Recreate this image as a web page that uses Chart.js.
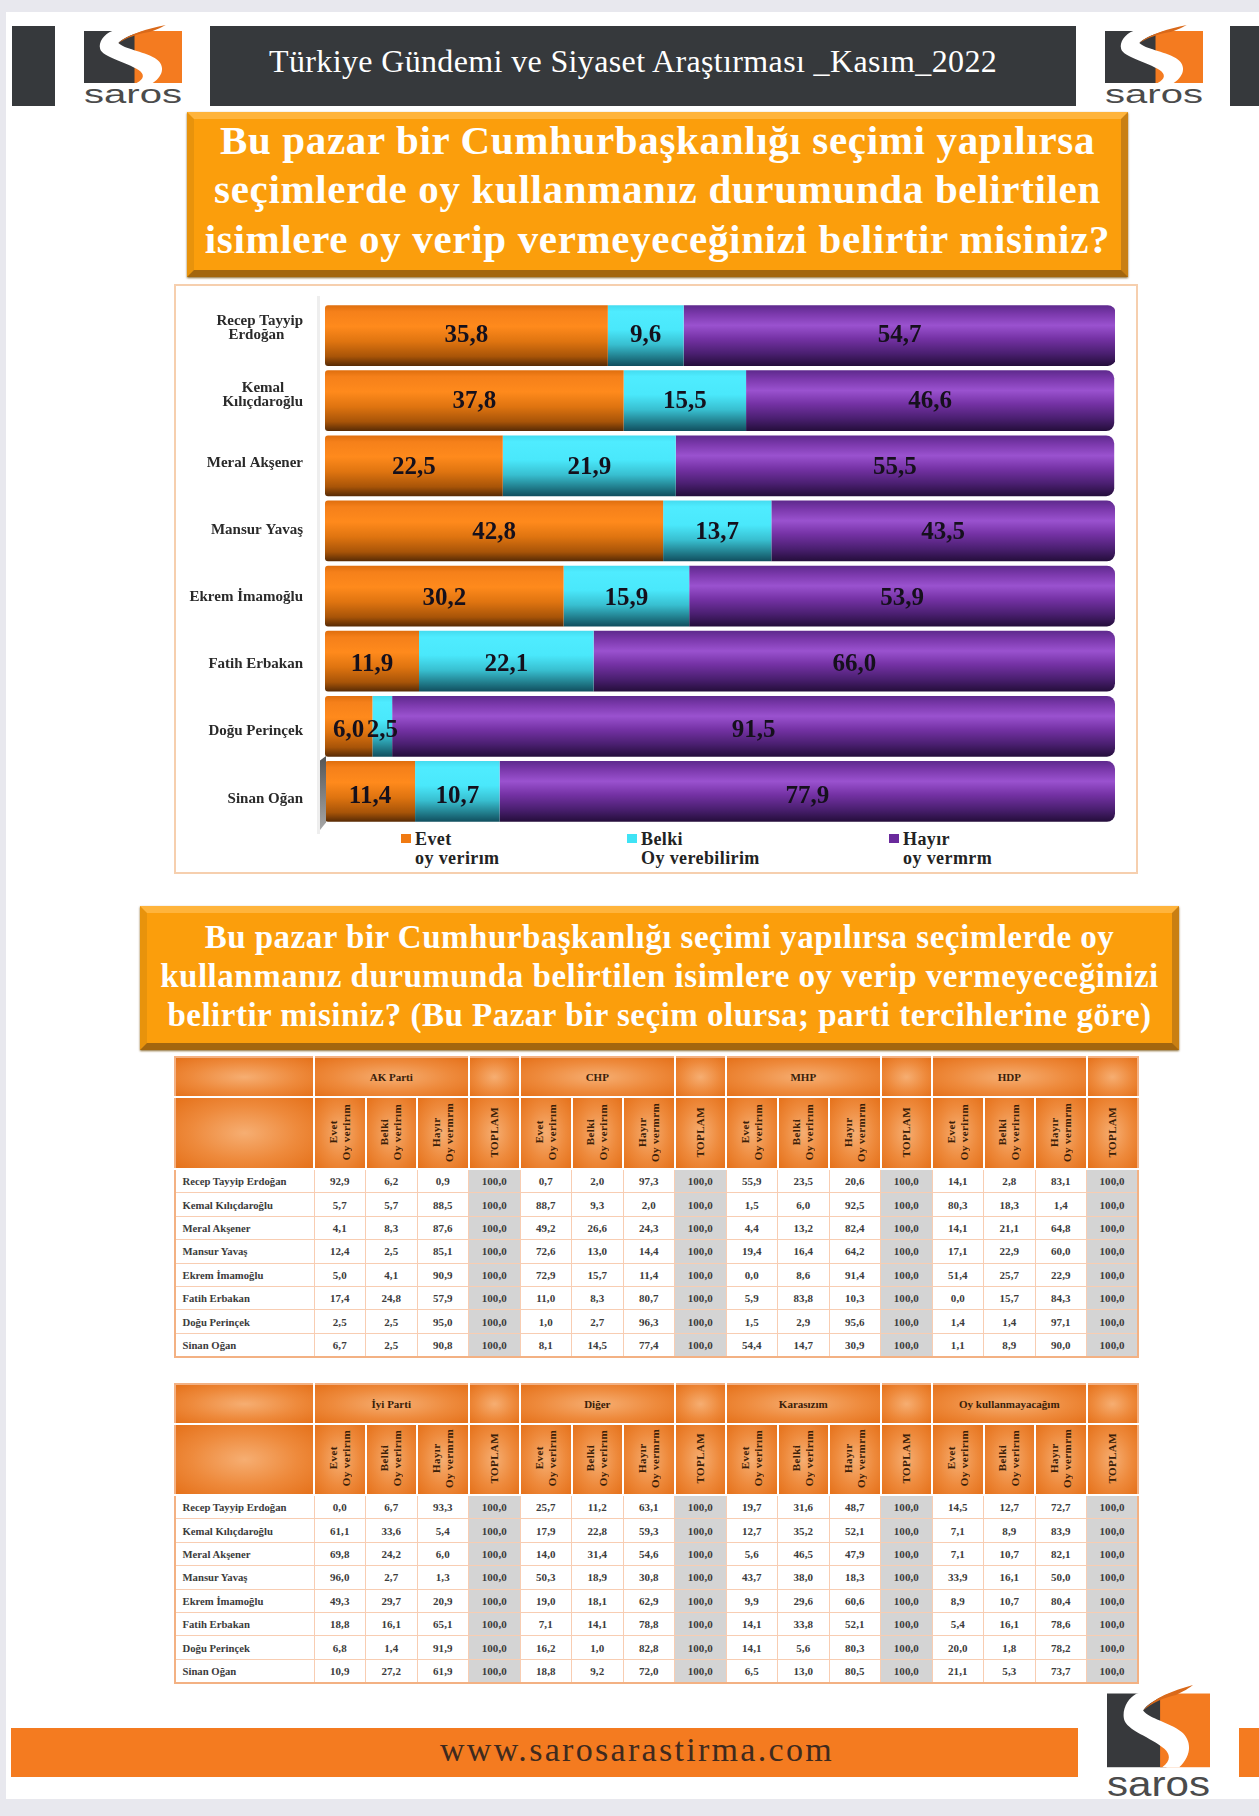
<!DOCTYPE html>
<html lang="tr">
<head>
<meta charset="utf-8">
<title>Saros Kasım 2022</title>
<script src="https://cdn.jsdelivr.net/npm/chart.js@4"></script>
<style>
html,body{margin:0;padding:0;width:1259px;height:1816px;overflow:hidden;background:#e8e8ee;font-family:"Liberation Serif",serif}
div,svg,table,canvas{position:absolute}
#page{left:6px;top:12px;width:1253px;height:1787px;background:#fff}
.dark{background:#36393c;top:26px;height:80px}
.logo{overflow:visible}
.box{box-sizing:border-box;border-style:solid;border-width:7px;border-color:#ffb43c #c97f12 #a3660e #e8930c;background:#fb9e0c;color:#fff;font-weight:bold;text-align:center;box-shadow:0 1px 2px #8a6a30}
.box span{position:absolute;left:-7px;right:-7px;white-space:nowrap}
#panel{box-sizing:border-box;left:174px;top:284px;width:964px;height:590px;border:2px solid #f6cfae}
#chart{left:172px;top:303px}
#axisline{left:317px;top:296px;width:3px;height:538px;background:#eeeeee}
#wedge{left:320px;top:756px;width:6px;height:74px;background:linear-gradient(#555,#a8a8a8);clip-path:polygon(100% 0,100% 90%,0 100%,0 6%)}
.lg{font-weight:bold;font-size:18px;line-height:19px;color:#222;letter-spacing:.4px;white-space:nowrap}
.sq{width:10px;height:9px}
table{border-collapse:collapse;table-layout:fixed;width:963.5px;left:173.5px;font-weight:bold;color:#3c3c3c;font-size:11px;border:2px solid #f3b183}
th{padding:0;border:2px solid #fff;background:radial-gradient(ellipse at center,#f6ae72 0%,#ee8a3c 55%,#e5711a 100%);color:#3a2008;font-size:11px;overflow:hidden}
tr:first-child th{border-top:0}
th:first-child{border-left:0}
th:last-child{border-right:0}
td{padding:0;border:1px solid #f8cdb2;text-align:center;height:22.4px;letter-spacing:.1px}
td.nm{text-align:left;padding-left:7px;white-space:nowrap;font-size:10.7px;letter-spacing:0}
td.tp{background:#d4d4d4}
.rot{writing-mode:vertical-rl;transform:rotate(180deg);display:inline-block;line-height:13px;letter-spacing:.4px;text-align:center;white-space:nowrap}
</style>
</head>
<body>
<svg width="0" height="0" style="left:0;top:0">
<symbol id="saros" viewBox="10 5 97 79" preserveAspectRatio="none">
<rect x="10" y="11" width="56" height="52" fill="#37393c"/>
<rect x="60" y="11" width="47" height="52" fill="#f47b20"/>
<path d="M38 11C30 14 24 22 26 29C28 37 52 42 64 50C70 54 70 59 62 63L78 63C90 55 90 44 80 38C68 31 50 29 44 23C50 16 70 10 90 5C70 6 52 8 38 11Z" fill="#fff"/>
<path d="M44 23C54 14 72 9 91 5C84 9 80 10 75 12C62 14 52 18 44 23Z" fill="#d9691a"/>
<text x="58.5" y="83.5" font-family="Liberation Sans" font-size="25" fill="#4b4b4b" text-anchor="middle" textLength="97" lengthAdjust="spacingAndGlyphs">saros</text>
</symbol>
</svg>

<div id="page"></div>
<div class="dark" style="left:12px;width:43px"></div>
<svg class="logo" style="left:84px;top:25px" width="98" height="79"><use href="#saros" width="98" height="79"/></svg>
<div class="dark" style="left:210px;width:866px"></div>
<div id="topTitle" style="left:269px;top:43px;color:#fff;font-size:32px;letter-spacing:.36px;line-height:36px;white-space:nowrap">Türkiye Gündemi ve Siyaset Araştırması _Kasım_2022</div>
<svg class="logo" style="left:1105px;top:25px" width="98" height="79"><use href="#saros" width="98" height="79"/></svg>
<div class="dark" style="left:1230px;width:29px"></div>

<div class="box" style="left:187px;top:112px;width:941px;height:165px;font-size:41px;letter-spacing:.66px">
<span style="top:-3px">Bu pazar bir Cumhurbaşkanlığı seçimi yapılırsa</span>
<span style="top:46px">seçimlerde oy kullanmanız durumunda belirtilen</span>
<span style="top:96px">isimlere oy verip vermeyeceğinizi belirtir misiniz?</span>
</div>

<div id="panel"></div>
<div id="axisline"></div>
<canvas id="chart" width="943" height="521"></canvas>
<div id="wedge"></div>
<div id="legend"></div>

<div class="box" style="left:140px;top:906px;width:1039px;height:144px;font-size:33px;letter-spacing:.5px">
<span style="top:6px">Bu pazar bir Cumhurbaşkanlığı seçimi yapılırsa seçimlerde oy</span>
<span style="top:45px">kullanmanız durumunda belirtilen isimlere oy verip vermeyeceğinizi</span>
<span style="top:84px">belirtir misiniz? (Bu Pazar bir seçim olursa; parti tercihlerine göre)</span>
</div>

<div id="tables"></div>

<div style="left:11px;top:1728px;width:1067px;height:49px;background:#f47b20"></div>
<div style="left:1239px;top:1728px;width:20px;height:49px;background:#f47b20"></div>
<div style="left:440px;top:1731px;color:#3f2a1e;font-size:34px;line-height:38px;letter-spacing:2.3px;white-space:nowrap">www.sarosarastirma.com</div>
<svg class="logo" style="left:1107px;top:1685px" width="103" height="112"><use href="#saros" width="103" height="112"/></svg>

<script>
// top chart
const names=["Recep Tayyip Erdoğan","Kemal Kılıçdaroğlu","Meral Akşener","Mansur Yavaş","Ekrem İmamoğlu","Fatih Erbakan","Doğu Perinçek","Sinan Oğan"]
const nb="\u00a0\u00a0\u00a0\u00a0\u00a0"
const tickLabels=[["Recep Tayyip","Erdoğan"+nb],["Kemal"+nb,"Kılıçdaroğlu"],"Meral Akşener","Mansur Yavaş","Ekrem İmamoğlu","Fatih Erbakan","Doğu Perinçek","Sinan Oğan"]
const evet=[35.8,37.8,22.5,42.8,30.2,11.9,6.0,11.4]
const belki=[9.6,15.5,21.9,13.7,15.9,22.1,2.5,10.7]
const hayir=[54.7,46.6,55.5,43.5,53.9,66.0,91.5,77.9]
const legendText=[["Evet","oy verirım"],["Belki","Oy verebilirim"],["Hayır","oy vermrm"]]

// party tables
const akParti=[[92.9,6.2,0.9],[5.7,5.7,88.5],[4.1,8.3,87.6],[12.4,2.5,85.1],[5.0,4.1,90.9],[17.4,24.8,57.9],[2.5,2.5,95.0],[6.7,2.5,90.8]]
const chp=[[0.7,2.0,97.3],[88.7,9.3,2.0],[49.2,26.6,24.3],[72.6,13.0,14.4],[72.9,15.7,11.4],[11.0,8.3,80.7],[1.0,2.7,96.3],[8.1,14.5,77.4]]
const mhp=[[55.9,23.5,20.6],[1.5,6.0,92.5],[4.4,13.2,82.4],[19.4,16.4,64.2],[0.0,8.6,91.4],[5.9,83.8,10.3],[1.5,2.9,95.6],[54.4,14.7,30.9]]
const hdp=[[14.1,2.8,83.1],[80.3,18.3,1.4],[14.1,21.1,64.8],[17.1,22.9,60.0],[51.4,25.7,22.9],[0.0,15.7,84.3],[1.4,1.4,97.1],[1.1,8.9,90.0]]
const iyiParti=[[0.0,6.7,93.3],[61.1,33.6,5.4],[69.8,24.2,6.0],[96.0,2.7,1.3],[49.3,29.7,20.9],[18.8,16.1,65.1],[6.8,1.4,91.9],[10.9,27.2,61.9]]
const diger=[[25.7,11.2,63.1],[17.9,22.8,59.3],[14.0,31.4,54.6],[50.3,18.9,30.8],[19.0,18.1,62.9],[7.1,14.1,78.8],[16.2,1.0,82.8],[18.8,9.2,72.0]]
const kararsiz=[[19.7,31.6,48.7],[12.7,35.2,52.1],[5.6,46.5,47.9],[43.7,38.0,18.3],[9.9,29.6,60.6],[14.1,33.8,52.1],[14.1,5.6,80.3],[6.5,13.0,80.5]]
const oyKullanmayacak=[[14.5,12.7,72.7],[7.1,8.9,83.9],[7.1,10.7,82.1],[33.9,16.1,50.0],[8.9,10.7,80.4],[5.4,16.1,78.6],[20.0,1.8,78.2],[21.1,5.3,73.7]]
const subHeads=[["Evet","Oy verirım"],["Belki","Oy verirım"],["Hayır","Oy vermrm"]]

const fmt=v=>v.toFixed(1).replace(".",",")

const orangeStops=[[0,"#e06f0e"],[.1,"#f5801a"],[.35,"#ff8a1c"],[.6,"#df7410"],[.85,"#a85408"],[1,"#5a2c05"]]
const cyanStops=[[0,"#45dcf0"],[.1,"#4fecff"],[.4,"#4ae8fb"],[.65,"#38bfd0"],[.85,"#22808f"],[1,"#115060"]]
const purpleStops=[[0,"#5f2a8e"],[.15,"#7d3aae"],[.33,"#9a52cf"],[.55,"#7532a5"],[.8,"#4a1f70"],[1,"#250e3c"]]

const cylinder=stops=>ctx=>{
const y=ctx.chart.scales.y?ctx.chart.scales.y.getPixelForValue(ctx.dataIndex):NaN
if(!isFinite(y))return stops[2][1]
const g=ctx.chart.ctx.createLinearGradient(0,y-30,0,y+30)
stops.forEach(([p,c])=>g.addColorStop(p,c))
return g
}

const valueLabels={id:"valueLabels",afterDatasetsDraw(chart){
const c=chart.ctx
c.save()
c.font="bold 25px 'Liberation Serif'"
c.fillStyle="#15101c"
c.textAlign="center"
c.textBaseline="middle"
chart.data.datasets.forEach((ds,i)=>{
chart.getDatasetMeta(i).data.forEach((el,j)=>{
const p=el.getCenterPoint()
// labels drift down a little row by row in the source
c.fillText(fmt(ds.data[j]),p.x,p.y+.69*j)
})
})
c.restore()
}}

new Chart(document.getElementById("chart"),{
type:"bar",
data:{labels:names,datasets:[
{label:"Evet",data:evet,backgroundColor:cylinder(orangeStops),borderRadius:{topLeft:3,bottomLeft:3}},
{label:"Belki",data:belki,backgroundColor:cylinder(cyanStops)},
{label:"Hayır",data:hayir,backgroundColor:cylinder(purpleStops),borderRadius:{topRight:8,bottomRight:8}}
]},
options:{
indexAxis:"y",responsive:false,animation:false,
layout:{padding:0},
datasets:{bar:{categoryPercentage:1,barPercentage:.932,borderSkipped:false}},
plugins:{legend:{display:false},tooltip:{enabled:false}},
scales:{
x:{display:false,stacked:true,min:0,max:100},
y:{display:false,stacked:true},
// the name column sits on a slightly wider pitch than the bars in the source
yNames:{type:"linear",position:"left",reverse:true,offset:false,min:-.375,max:7.376,
grid:{display:false,offset:false},border:{display:false},
afterBuildTicks:a=>{a.ticks=tickLabels.map((t,i)=>({value:i}))},
afterFit:a=>{a.width=153;a.paddingTop=0;a.paddingBottom=0},
ticks:{autoSkip:false,padding:14,color:"#2a2a2a",font:{family:"Liberation Serif",weight:"bold",size:15,lineHeight:.95},callback:v=>tickLabels[v]}
}
}
},
plugins:[valueLabels]
})

// legend
const legendColors=["#f07a12","#3fe3f5","#6a2a9c"]
const legendX=[401,627,889]
legendText.forEach(([a,b],i)=>{
document.getElementById("legend").insertAdjacentHTML("beforeend",
`<div class="sq" style="left:${legendX[i]}px;top:834px;background:${legendColors[i]}"></div>`+
`<div class="lg" style="left:${legendX[i]+14}px;top:830px">${a}</div><div class="lg" style="left:${legendX[i]+14}px;top:849px">${b}</div>`)
})

// tables
function buildTable(top,parties,subH){
let h=`<table style="top:${top}px"><colgroup><col style="width:139.5px">`+"<col style='width:51.5px'>".repeat(16)+"</colgroup>"
h+=`<tr style="height:40px"><th></th>`+parties.map(([n])=>`<th colspan="3">${n}</th><th></th>`).join("")+"</tr>"
h+=`<tr style="height:${subH}px"><th></th>`+parties.map(()=>subHeads.map(s=>`<th><span class="rot">${s[0]}<br>${s[1]}</span></th>`).join("")+`<th><span class="rot">TOPLAM</span></th>`).join("")+"</tr>"
names.forEach((n,r)=>{
h+=`<tr><td class="nm">${n}</td>`+parties.map(([,rows])=>rows[r].map(v=>`<td>${fmt(v)}</td>`).join("")+`<td class="tp">100,0</td>`).join("")+"</tr>"
})
document.getElementById("tables").insertAdjacentHTML("beforeend",h+"</table>")
}
buildTable(1056,[["AK Parti",akParti],["CHP",chp],["MHP",mhp],["HDP",hdp]],72)
buildTable(1383,[["İyi Parti",iyiParti],["Diğer",diger],["Karasızım",kararsiz],["Oy kullanmayacağım",oyKullanmayacak]],71)
</script>
</body>
</html>
